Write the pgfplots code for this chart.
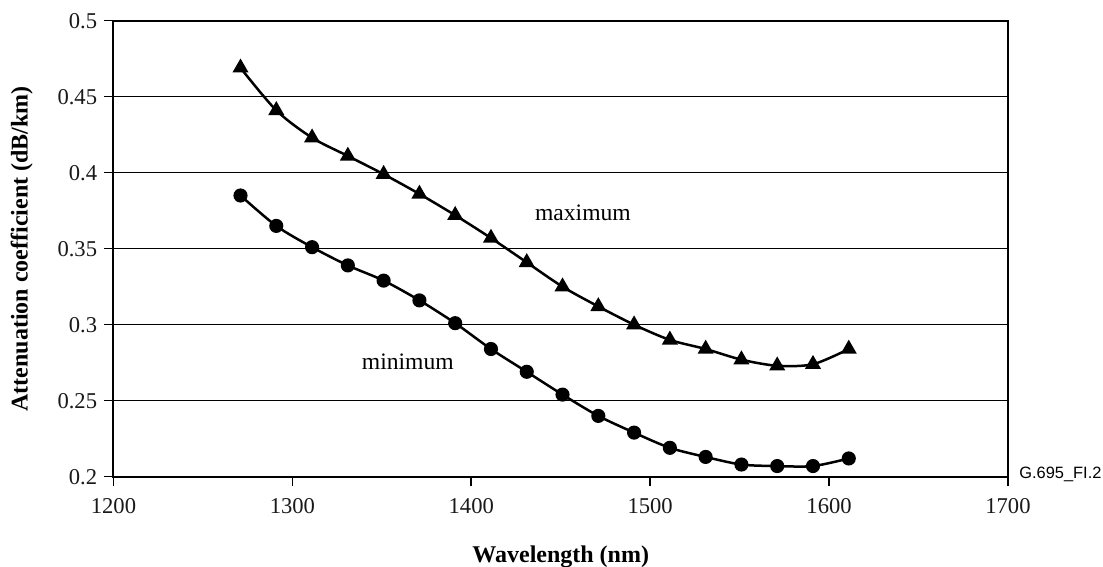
\documentclass[border=0pt]{standalone}
\usepackage{fontspec}
\setmainfont{Liberation Serif}
\newfontfamily\arialfont{Liberation Sans}
\usepackage{pgfplots}
\pgfplotsset{compat=1.18}
\begin{document}
\begin{tikzpicture}
\begin{axis}[
  at={(0,0)}, anchor=south west,
  width=447.25pt, height=228pt, scale only axis,
  xmin=1200, xmax=1700, ymin=0.2, ymax=0.5,
  xtick={1200,1300,1400,1500,1600,1700},
  ytick={0.2,0.25,0.3,0.35,0.4,0.45,0.5},
  /pgf/number format/assume math mode=true,
  /pgf/number format/1000 sep={},
  yticklabel style={/pgf/number format/fixed, /pgf/number format/precision=2},
  tick label style={font=\fontsize{11.3}{13}\selectfont, text=black!90},
  xticklabel style={anchor=base, inner sep=0pt, yshift=-13.7pt},
  yticklabel style={anchor=east, inner sep=0pt, xshift=-3.5pt},
  tick align=outside, tick pos=left,
  major tick length=4.5pt,
  every tick/.style={black, line width=0.8pt},
  axis line style={black, line width=1pt},
  ymajorgrids, grid style={black, line width=0.75pt},
  xlabel={Wavelength (nm)},
  ylabel={Attenuation coefficient (dB/km)},
  label style={font=\bfseries\fontsize{12}{14}\selectfont},
  xlabel style={at={(axis description cs:0.5,-0.1886)}, anchor=base, inner sep=0pt},
  ylabel style={at={(axis description cs:-0.0961,0.5)}, anchor=base, inner sep=0pt},
  clip=false,
]
\addplot[black, line width=1.25pt, smooth, mark=triangle*, mark size=3.4pt, mark options={solid}] coordinates {
(1271,0.469) (1291,0.441) (1311,0.423) (1331,0.411) (1351,0.399) (1371,0.386)
(1391,0.372) (1411,0.357) (1431,0.341) (1451,0.325) (1471,0.312) (1491,0.300)
(1511,0.290) (1531,0.284) (1551,0.277) (1571,0.273) (1591,0.274) (1611,0.284)};
\addplot[black, line width=1.25pt, smooth, mark=*, mark size=2.9pt] coordinates {
(1271,0.385) (1291,0.365) (1311,0.351) (1331,0.339) (1351,0.329) (1371,0.316)
(1391,0.301) (1411,0.284) (1431,0.269) (1451,0.254) (1471,0.240) (1491,0.229)
(1511,0.219) (1531,0.213) (1551,0.208) (1571,0.207) (1591,0.207) (1611,0.212)};
\node[anchor=base, inner sep=0pt, font=\fontsize{11.8}{14}\selectfont] at (axis cs:1462.4,0.3684) {maximum};
\node[anchor=base, inner sep=0pt, font=\fontsize{11.8}{14}\selectfont] at (axis cs:1364.5,0.2702) {minimum};
\node[anchor=base west, inner sep=0pt, font=\arialfont\fontsize{8.2}{10}\selectfont] at ([xshift=5.5pt,yshift=-0.8pt]rel axis cs:1,0) {G.695\_FI.2};
\end{axis}
\pgfresetboundingbox
\path (-56.75pt,-45.15pt) rectangle (494.75pt,238.35pt);
\end{tikzpicture}
\end{document}
